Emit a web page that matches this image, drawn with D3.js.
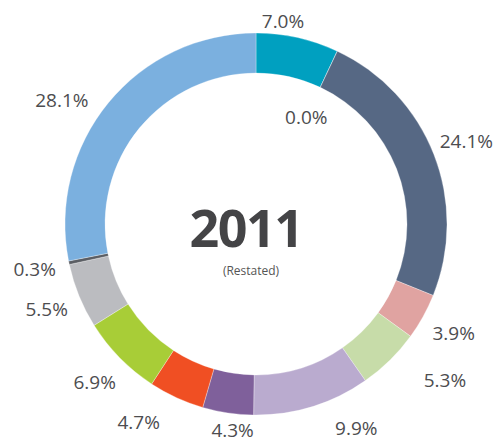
<!DOCTYPE html>
<html>
<head>
<meta charset="utf-8">
<script src="https://cdn.jsdelivr.net/npm/d3@7"></script>
<style>
  body { margin: 0; background: #fff; }
  svg { display: block; font-family: "Open Sans", "Noto Sans", sans-serif; }
</style>
</head>
<body>
<svg id="chart" width="493" height="442"></svg>
<script>
// segment shares in %, clockwise from 12 o'clock
const labels = ['7.0%', '0.0%', '24.1%', '3.9%', '5.3%', '9.9%', '4.3%', '4.7%', '6.9%', '5.5%', '0.3%', '28.1%'];
const values = [7.0, 0.0, 24.1, 3.9, 5.3, 9.9, 4.3, 4.7, 6.9, 5.5, 0.3, 28.1];
const colors = ['#00a0c0', '#566884', '#566884', '#e0a3a1', '#c7dca9', '#baabcf', '#7f609b', '#f04f23',
                '#a8cd37', '#bbbcc0', '#5b5e64', '#7bb0df'];

const svg = d3.select('#chart');
const cx = 256, cy = 224;
const outerR = 191, innerR = 151, labelR = 226;

const g = svg.append('g').attr('transform', `translate(${cx},${cy})`);

const pie = d3.pie().sort(null).value(d => d);
const arcs = pie(values);

const arc = d3.arc().innerRadius(innerR).outerRadius(outerR);

g.selectAll('path')
  .data(arcs)
  .enter()
  .append('path')
  .attr('d', arc)
  .attr('fill', (d, i) => colors[i])
  .attr('stroke', '#fff')
  .attr('stroke-opacity', 0.5)
  .attr('stroke-width', 0.6);

// label nudges for the few hand placed labels (angle in deg, radius)
const nudge = {
  0: { a: -5, r: 204 },
  1: { a: 0, r: 118 },
  4: { a: -6, r: 245 },
  5: { a: -9, r: 228 },
  6: { a: -2, r: 208 },
  7: { a: 6, r: 230 },
  11: { a: -7, r: 230 }
};

g.selectAll('text.pct')
  .data(arcs)
  .enter()
  .append('text')
  .attr('class', 'pct')
  .attr('text-anchor', 'middle')
  .attr('dy', '0.35em')
  .attr('font-size', 19)
  .attr('fill', '#4d4d4f')
  .attr('transform', (d, i) => {
    const n = nudge[i] || { a: 0, r: labelR };
    const mid = (d.startAngle + d.endAngle) / 2 + n.a * Math.PI / 180;
    return `translate(${Math.sin(mid) * n.r},${-Math.cos(mid) * n.r})`;
  })
  .text((d, i) => labels[i]);

g.append('text')
  .attr('text-anchor', 'middle')
  .attr('x', -10)
  .attr('y', 23)
  .attr('font-size', 52)
  .attr('font-weight', 700)
  .attr('letter-spacing', -1.5)
  .attr('fill', '#444446')
  .text('2011');

g.append('text')
  .attr('text-anchor', 'middle')
  .attr('x', -5)
  .attr('y', 51)
  .attr('font-size', 12)
  .attr('fill', '#555')
  .text('(Restated)');
</script>
</body>
</html>
